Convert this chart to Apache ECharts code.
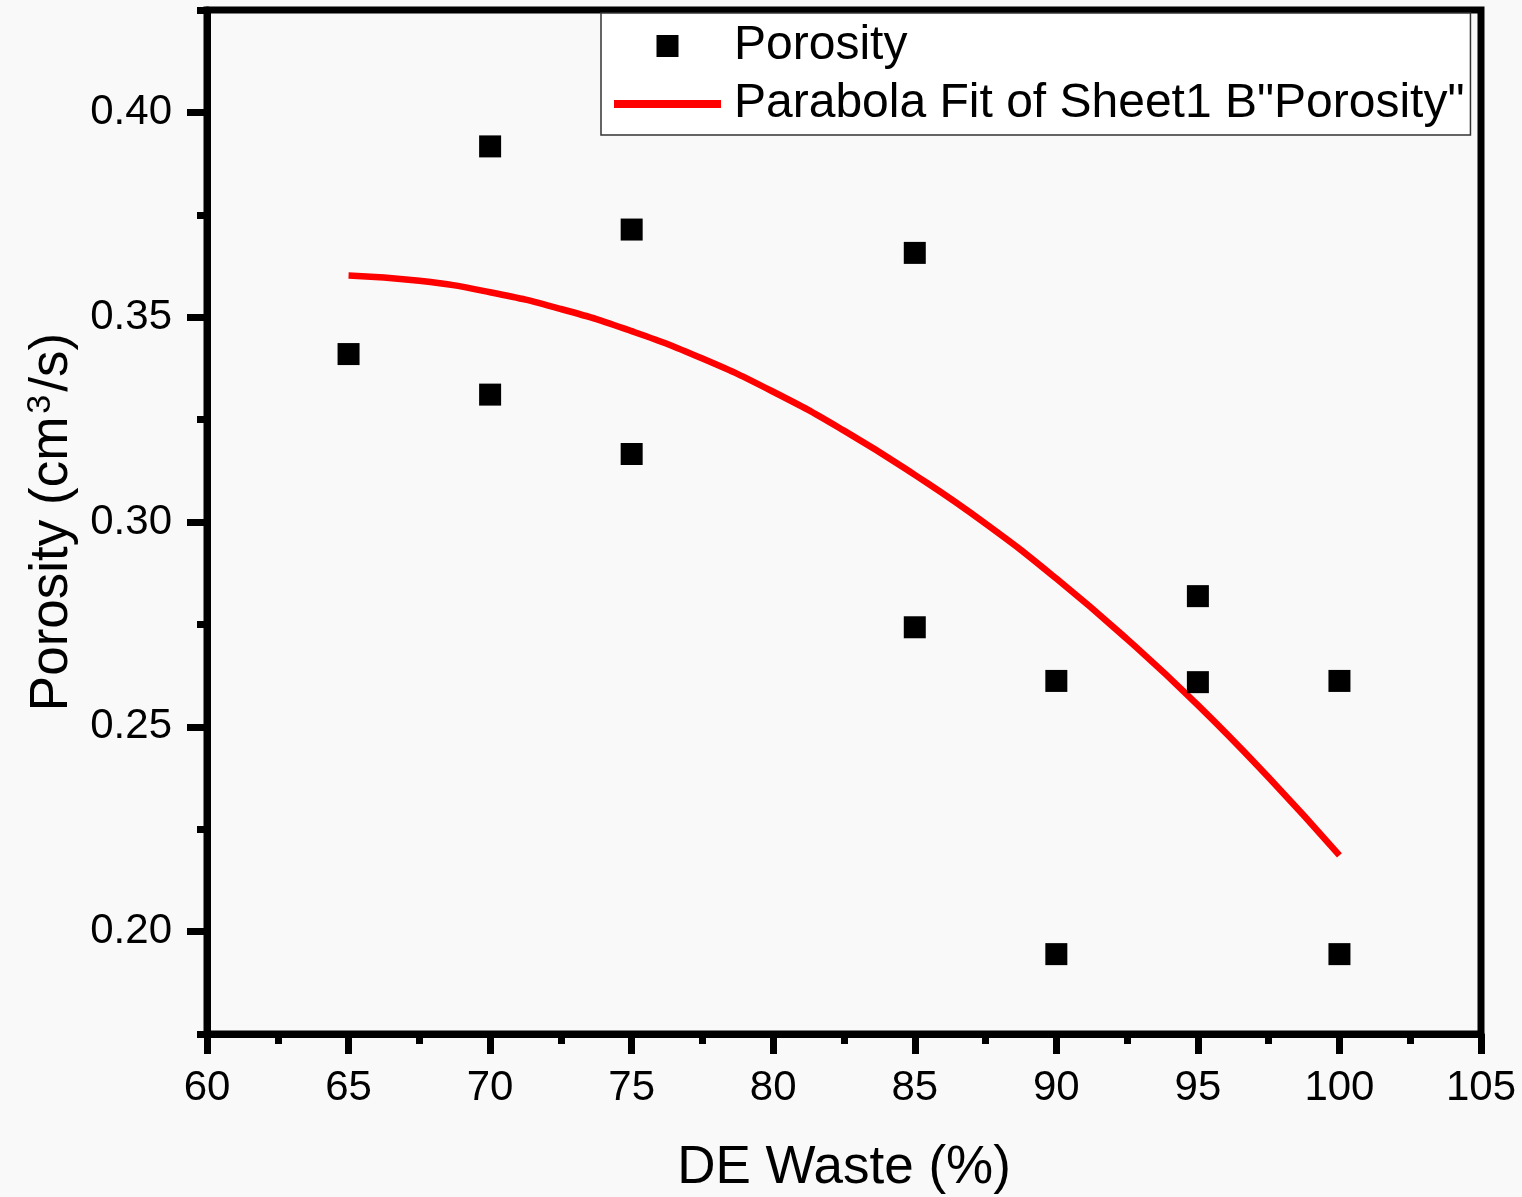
<!DOCTYPE html>
<html>
<head>
<meta charset="utf-8">
<script src="https://cdn.jsdelivr.net/npm/echarts@6/dist/echarts.min.js"></script>
<style>
html,body{margin:0;padding:0;background:#f9f9f9;}
#chart{width:1522px;height:1197px;}
</style>
</head>
<body>
<div id="chart"></div>
<script>
// ---- data ----
const porosityX = [65, 70, 70, 75, 75, 85, 85, 90, 90, 95, 95, 100, 100];
const porosityY = [0.341, 0.3917, 0.3311, 0.3714, 0.3166, 0.3657, 0.2743, 0.2612, 0.1945, 0.2819, 0.2609, 0.2612, 0.1945];

const fitX = [65, 67.5, 70, 72.5, 75, 77.5, 80, 82.5, 85, 87.5, 90, 92.5, 95, 97.5, 100];
const fitY = [0.3602, 0.3589, 0.3561, 0.3520, 0.3466, 0.3399, 0.3318, 0.3223, 0.3115, 0.2996, 0.2862, 0.2714, 0.2553, 0.2376, 0.2186];

const yMajorTicks = [0.20, 0.25, 0.30, 0.35, 0.40];
const yMinorTicks = [0.175, 0.225, 0.275, 0.325, 0.375, 0.425];

const seriesScatterName = 'Porosity';
const seriesFitName = 'Parabola Fit of Sheet1 B"Porosity"';
const xAxisTitle = 'DE Waste (%)';

// ---- chart ----
const FONT = '"Liberation Sans", Arial, sans-serif';
const chart = echarts.init(document.getElementById('chart'), null, {renderer: 'canvas'});

const scatterData = porosityX.map((x, i) => [x, porosityY[i]]);
const fitData = fitX.map((x, i) => [x, fitY[i]]);

chart.setOption({
  backgroundColor: '#f9f9f9',
  animation: false,
  grid: {
    left: 207, right: 41, top: 10, bottom: 163,
    outerBoundsMode: 'none', containLabel: false,
    show: true, borderColor: '#000', borderWidth: 7, backgroundColor: 'transparent'
  },
  legend: {
    orient: 'vertical',
    left: 601, top: 13,
    itemWidth: 107, itemHeight: 22, itemGap: 10,
    padding: [9, 6, 7, 9],
    backgroundColor: '#ffffff',
    borderColor: '#333', borderWidth: 1.5,
    selectedMode: false,
    textStyle: {fontSize: 48, color: '#000', fontFamily: FONT, lineHeight: 48, padding: [0, 0, 0, 8]},
    data: [
      {name: seriesScatterName, icon: 'path://M0,0H10V10H0Z', itemStyle: {color: '#000', opacity: 1}},
      {name: seriesFitName, itemStyle: {color: 'rgba(0,0,0,0)', borderWidth: 0, opacity: 0},
       lineStyle: {width: 8, color: '#ff0000', opacity: 1}}
    ]
  },
  xAxis: {
    type: 'value', min: 60, max: 105, interval: 5,
    name: xAxisTitle, nameLocation: 'middle', nameGap: 108,
    nameTextStyle: {fontSize: 53, color: '#000', fontFamily: FONT},
    axisLine: {show: true, lineStyle: {color: '#000', width: 7}},
    axisTick: {show: true, inside: false, length: 20, lineStyle: {color: '#000', width: 7}},
    minorTick: {show: true, splitNumber: 2, length: 10, lineStyle: {color: '#000', width: 7}},
    axisLabel: {fontSize: 42, color: '#000', fontFamily: FONT, margin: 33},
    splitLine: {show: false}, minorSplitLine: {show: false}
  },
  yAxis: [{
    type: 'value', min: 0.175, max: 0.425,
    name: '{a|Porosity (cm}{b|3}{a|/s)}', nameLocation: 'middle', nameGap: 121, nameRotate: 90,
    nameTextStyle: {
      color: '#000', fontFamily: FONT,
      rich: {
        a: {fontSize: 53, color: '#000', fontFamily: FONT},
        b: {fontSize: 34, color: '#000', fontFamily: FONT, verticalAlign: 'top', padding: [0, 3, 24, 3]}
      }
    },
    axisLine: {show: true, lineStyle: {color: '#000', width: 7}},
    axisTick: {show: true, inside: false, length: 20, customValues: yMajorTicks, lineStyle: {color: '#000', width: 7}},
    axisLabel: {fontSize: 42, color: '#000', fontFamily: FONT, margin: 35, customValues: yMajorTicks,
      formatter: v => v.toFixed(2)},
    splitLine: {show: false}
  }, {
    type: 'value', min: 0.175, max: 0.425, position: 'left',
    axisLine: {show: false},
    axisTick: {show: true, inside: false, length: 10, customValues: yMinorTicks, lineStyle: {color: '#000', width: 7}},
    axisLabel: {show: false},
    splitLine: {show: false}
  }],
  series: [
    {
      name: seriesScatterName, type: 'scatter', yAxisIndex: 0,
      symbol: 'rect', symbolSize: 22,
      itemStyle: {color: '#000', opacity: 1},
      data: scatterData, z: 3
    },
    {
      name: seriesFitName, type: 'line', yAxisIndex: 0,
      smooth: true, showSymbol: false, symbol: 'none',
      lineStyle: {color: '#ff0000', width: 6.5},
      itemStyle: {color: '#ff0000'},
      data: fitData, z: 2
    }
  ]
});
</script>
</body>
</html>
